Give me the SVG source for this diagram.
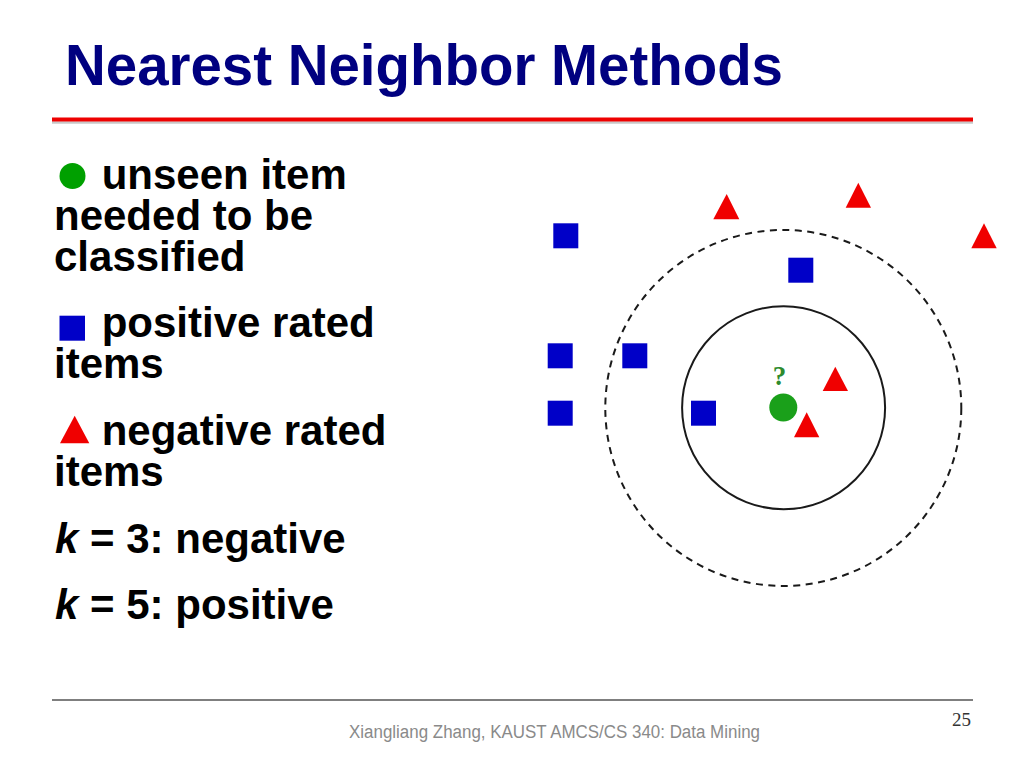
<svg xmlns="http://www.w3.org/2000/svg" width="1024" height="768" viewBox="0 0 1024 768">
  <style>
    .title { font-family: "Liberation Sans", Arial, sans-serif; font-weight: bold; font-size: 57px; fill: #000080; }
    .body { font-family: "Liberation Sans", Arial, sans-serif; font-weight: bold; font-size: 42px; fill: #000000; }
    .footer { font-family: "Liberation Sans", Arial, sans-serif; font-size: 18px; fill: #8a8a8a; }
    .pagenum { font-family: "Liberation Serif", "Times New Roman", serif; font-size: 19px; fill: #333333; }
    .sq { fill: #0000c8; }
    .tri { fill: #f00000; }
    .ring { fill: none; stroke: #1a1a1a; stroke-width: 2; }
    .ring-dash { fill: none; stroke: #1a1a1a; stroke-width: 2; stroke-dasharray: 7 5.5; }
  </style>
  <rect width="1024" height="768" fill="#ffffff"/>

  <g id="title">
    <line x1="52" y1="122.5" x2="973" y2="122.5" stroke="#c8c8c8" stroke-width="2.5"/>
    <line x1="52" y1="119.5" x2="973" y2="119.5" stroke="#ee0000" stroke-width="4"/>
    <text class="title" x="65" y="85" textLength="718" lengthAdjust="spacingAndGlyphs">Nearest Neighbor Methods</text>
  </g>

  <g id="legend">
    <g id="legend-unseen">
      <circle cx="72.5" cy="176" r="13" fill="#00a000"/>
      <text class="body"><tspan x="101.7" y="189.3">unseen item</tspan><tspan x="54" y="230">needed to be</tspan><tspan x="54" y="270.7">classified</tspan></text>
    </g>
    <g id="legend-positive">
      <rect x="59.5" y="315.7" width="25.5" height="25" fill="#0000c8"/>
      <text class="body"><tspan x="101.7" y="336.7">positive rated</tspan><tspan x="54" y="378.3">items</tspan></text>
    </g>
    <g id="legend-negative">
      <polygon points="74.7,415.7 89.3,443.3 60,443.3" fill="#f00000"/>
      <text class="body"><tspan x="101.7" y="445">negative rated</tspan><tspan x="54" y="486">items</tspan></text>
    </g>
    <g id="legend-k3">
      <text class="body" x="55" y="553.3"><tspan font-style="italic">k</tspan> = 3: negative</text>
    </g>
    <g id="legend-k5">
      <text class="body" x="55" y="619.3"><tspan font-style="italic">k</tspan> = 5: positive</text>
    </g>
  </g>

  <g id="plot">
    <g id="ring-k5"><circle class="ring-dash" cx="783.3" cy="408" r="178"/></g>
    <g id="ring-k3"><circle class="ring" cx="783.6" cy="407.7" r="101.5"/></g>

    <g id="sq1"><rect class="sq" x="553.3" y="223.3" width="25" height="25"/></g>
    <g id="sq2"><rect class="sq" x="788.3" y="257.7" width="25" height="25"/></g>
    <g id="sq3"><rect class="sq" x="547.7" y="343.3" width="25" height="25"/></g>
    <g id="sq4"><rect class="sq" x="622.3" y="343.3" width="25" height="25"/></g>
    <g id="sq5"><rect class="sq" x="547.7" y="400.7" width="25" height="25"/></g>
    <g id="sq6"><rect class="sq" x="691" y="400.7" width="25" height="25"/></g>

    <g id="tri1"><polygon class="tri" points="726.7,194 739.3,219.3 713.3,219.3"/></g>
    <g id="tri2"><polygon class="tri" points="858.3,182.7 871,207.7 845.7,207.7"/></g>
    <g id="tri3"><polygon class="tri" points="984,223.3 996.7,248.3 971.3,248.3"/></g>
    <g id="tri4"><polygon class="tri" points="835.3,366.7 848,391 822.7,391"/></g>
    <g id="tri5"><polygon class="tri" points="806.7,412.3 819.3,437.3 794,437.3"/></g>

    <g id="unseen">
      <circle cx="783.3" cy="407.5" r="14" fill="#1aa01a"/>
      <text x="779.5" y="384.5" text-anchor="middle" font-family="'Liberation Serif', 'Times New Roman', serif" font-weight="bold" font-size="27" fill="#2e8b2e">?</text>
    </g>
  </g>

  <g id="footer">
    <line x1="52" y1="700" x2="973" y2="700" stroke="#555555" stroke-width="1.5"/>
    <text class="footer" x="349" y="737.7" textLength="411" lengthAdjust="spacingAndGlyphs">Xiangliang Zhang, KAUST AMCS/CS 340: Data Mining</text>
    <text class="pagenum" x="971" y="726" text-anchor="end">25</text>
  </g>
</svg>
